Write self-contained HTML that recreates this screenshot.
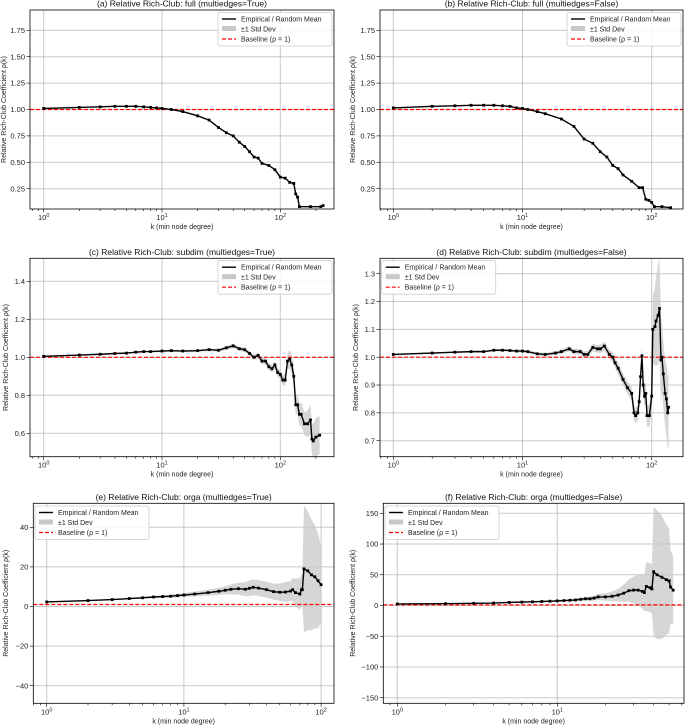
<!DOCTYPE html>
<html><head><meta charset="utf-8"><style>
html,body{margin:0;padding:0;background:#fff}
svg{display:block;font-family:"Liberation Sans","DejaVu Sans",sans-serif}
</style></head><body>
<svg id="fig" width="685" height="726" viewBox="0 0 685 726" xmlns="http://www.w3.org/2000/svg"></svg>
<script>
// ---- data ----
const kA=[1,2,3,4,5,6,7,8,9,10,12,15,20,25,30,35,40,45,50,55,60,65,70,80,90,100,110,120,130,135,140,145,180,220,230];
const vA=[1.01,1.02,1.025,1.03,1.03,1.03,1.025,1.02,1.015,1.01,1.0,0.98,0.94,0.9,0.83,0.78,0.75,0.69,0.65,0.6,0.55,0.54,0.49,0.47,0.43,0.36,0.35,0.31,0.30,0.2,0.17,0.08,0.08,0.08,0.09];
const sA=[0.005,0.005,0.005,0.005,0.005,0.005,0.005,0.005,0.005,0.005,0.005,0.005,0.005,0.005,0.005,0.005,0.005,0.005,0.005,0.005,0.005,0.005,0.005,0.005,0.005,0.005,0.005,0.005,0.005,0.005,0.005,0.005,0.005,0.005,0.005];
const kB=[1,2,3,4,5,6,7,8,9,10,11,13,15,20,25,30,35,40,45,50,55,60,70,80,85,90,95,100,105,120,140];
const vB=[1.015,1.03,1.035,1.04,1.04,1.04,1.035,1.03,1.015,1.01,1.0,0.98,0.96,0.91,0.84,0.72,0.68,0.6,0.55,0.47,0.44,0.38,0.32,0.26,0.26,0.15,0.14,0.12,0.08,0.08,0.07];
const sB=[0.005,0.005,0.005,0.005,0.005,0.005,0.005,0.005,0.005,0.005,0.005,0.005,0.005,0.005,0.005,0.005,0.005,0.005,0.005,0.005,0.005,0.005,0.005,0.005,0.005,0.005,0.005,0.005,0.005,0.005,0.005];
const kC=[1,2,3,4,5,6,7,8,10,12,15,20,25,30,35,40,45,50,55,60,65,70,75,80,85,90,95,100,105,110,115,120,125,130,135,140,145,150,160,170,180,185,190,200,215];
const vC=[1.005,1.012,1.016,1.02,1.022,1.027,1.03,1.03,1.033,1.035,1.033,1.035,1.04,1.037,1.05,1.06,1.045,1.04,1.02,1.0,1.01,0.98,0.98,0.95,0.94,0.96,0.92,0.91,0.88,0.88,0.98,0.99,0.96,0.90,0.75,0.75,0.70,0.70,0.65,0.65,0.67,0.57,0.56,0.58,0.59];
const sC=[0.003,0.003,0.003,0.003,0.003,0.004,0.004,0.004,0.005,0.005,0.005,0.006,0.007,0.008,0.01,0.012,0.012,0.012,0.013,0.014,0.015,0.016,0.017,0.018,0.02,0.02,0.022,0.024,0.026,0.03,0.04,0.05,0.05,0.05,0.05,0.05,0.06,0.06,0.06,0.07,0.08,0.08,0.09,0.1,0.1];
const kD=[1,2,3,4,5,6,7,8,9,10,11,13,15,18,20,23,25,28,30,32,35,38,40,43,47,50,52,55,60,65,70,73,75,78,80,82,84,86,88,90,92,96,100,102,106,108,112,115,118,120,123,127,130,133,135];
const vD=[1.01,1.015,1.018,1.02,1.02,1.025,1.025,1.024,1.022,1.022,1.02,1.012,1.01,1.015,1.02,1.03,1.02,1.02,1.01,1.01,1.035,1.03,1.03,1.04,1.01,1.0,0.98,0.96,0.92,0.89,0.87,0.8,0.79,0.8,0.84,0.93,1.005,0.9,0.86,0.87,0.79,0.79,0.86,1.1,1.11,1.13,1.15,1.175,0.99,1.0,0.94,0.87,0.85,0.80,0.82];
const sD=[0.003,0.003,0.003,0.003,0.004,0.004,0.004,0.004,0.005,0.005,0.005,0.006,0.006,0.007,0.008,0.009,0.01,0.01,0.011,0.012,0.013,0.014,0.015,0.016,0.017,0.018,0.018,0.02,0.02,0.022,0.025,0.025,0.027,0.028,0.03,0.03,0.035,0.035,0.035,0.04,0.04,0.04,0.05,0.12,0.14,0.16,0.18,0.18,0.16,0.12,0.12,0.12,0.13,0.13,0.14];
const kE=[1,2,3,4,5,6,7,8,9,10,12,15,18,20,22,25,28,30,32,35,40,45,50,55,60,62,65,70,72,73,75,80,85,90,95,100];
const vE=[2.3,3,3.5,4,4.4,4.8,5,5.2,5.5,5.8,6.3,7,7.7,8.2,8.7,9,8.7,9.2,9.7,9.3,8.5,7.5,7.2,7.3,7.8,8.5,7,6.3,8.5,8.5,19,18,16,15,13,11];
const sE=[0.1,0.2,0.3,0.4,0.5,0.6,0.7,0.8,0.9,1.0,1.2,1.5,1.8,2,2.5,3,3.5,4,4,4,4,4,4.5,5,5,6,7,8,8,8,32,30,28,26,24,19];
const kF=[1,2,3,4,5,6,7,8,9,10,11,12,13,14,15,16,17,18,20,22,24,26,28,30,32,34,35,36,38,39,40,42,45,48,50,51,53];
const vF=[2.5,3,3.5,4,5,5.5,6,6.5,7,7.5,8,8.5,9,10,11,11,12,14,14,15,17,20,24,25,25,23,21,31,29,27,55,50,46,42,40,30,25];
const sF=[0.2,0.3,0.4,0.5,0.6,0.7,0.8,1,1.2,1.4,1.6,1.8,2,2.5,3,3.5,4,5,6,8,10,14,18,22,25,28,30,40,40,40,105,105,100,90,85,60,55];

// ---- panels ----
const NS='http://www.w3.org/2000/svg';
const fig=document.getElementById('fig');
function el(tag,attrs,parent,txt){const e=document.createElementNS(NS,tag);for(const k in attrs)e.setAttribute(k,attrs[k]);if(txt!==undefined)e.textContent=txt;(parent||fig).appendChild(e);return e;}

function panel(cfg,ks,vs,ss){
  const g=el('g',{});
  
  
  const X=k=>cfg.x0+cfg.dec*Math.log10(k);
  const Y=v=>cfg.yA+(v-cfg.vA)*(cfg.yB-cfg.yA)/(cfg.vB-cfg.vA);
  const L=cfg.l,R=cfg.r,T=cfg.t,B=cfg.b;
  const cp=el('clipPath',{id:'cp'+cfg.id},g);
  el('rect',{x:L,y:T,width:R-L,height:B-T},cp);
  // grid
  [1,10,100].forEach(k=>{const x=X(k);if(x>L&&x<R){const gl=el('line',{x1:x,x2:x,y1:T,y2:B,stroke:'#b0b0b0','stroke-width':1,'stroke-opacity':0.7},g);}});
  cfg.yt.forEach(v=>{const y=Y(v);const gl=el('line',{x1:L,x2:R,y1:y,y2:y,stroke:'#b0b0b0','stroke-width':1,'stroke-opacity':0.7},g);});
  const clip=el('g',{'clip-path':'url(#cp'+cfg.id+')'},g);
  // band
  let pts=ks.map((k,i)=>X(k)+','+Y(vs[i]+ss[i]));
  for(let i=ks.length-1;i>=0;i--)pts.push(X(ks[i])+','+Y(vs[i]-ss[i]));
  const band=el('polygon',{points:pts.join(' '),fill:'#c8c8c8','fill-opacity':0.75},clip);
  
  
  // baseline
  const bl=el('line',{x1:L,x2:R,y1:Y(1),y2:Y(1),stroke:'#ff0000','stroke-width':1.2,'stroke-dasharray':'4,2'},clip);
  
  
  // line
  const ln=el('polyline',{points:ks.map((k,i)=>X(k)+','+Y(vs[i])).join(' '),fill:'none',stroke:'#000','stroke-width':1.4},clip);
  
  
  ks.forEach((k,i)=>{const m=el('rect',{x:X(k)-1.4,y:Y(vs[i])-1.4,width:2.8,height:2.8,fill:'#000'},clip);
    
    });
  // frame
  el('rect',{x:L,y:T,width:R-L,height:B-T,fill:'none',stroke:'#000','stroke-width':0.8},g);
  // x ticks
  const kmin=Math.pow(10,(L-cfg.x0)/cfg.dec),kmax=Math.pow(10,(R-cfg.x0)/cfg.dec);
  for(let e=-1;e<3;e++)for(let d=1;d<10;d++){const k=d*Math.pow(10,e);if(k<kmin||k>kmax)continue;const x=X(k);
    el('line',{x1:x,x2:x,y1:B,y2:B+(d==1?3.5:2),stroke:'#000','stroke-width':0.6},g);
    if(d==1){const t=el('text',{x:x,y:B+11,'font-size':7.5,'text-anchor':'middle',fill:'#222'},g,'10');
      
      el('tspan',{dy:-3,'font-size':5.5},t,String(e));}}
  // y ticks
  cfg.yt.forEach((v,i)=>{const y=Y(v);el('line',{x1:L-3.5,x2:L,y1:y,y2:y,stroke:'#000','stroke-width':0.6},g);
    const t=el('text',{x:L-5,y:y+2.6,'font-size':7.5,'text-anchor':'end',fill:'#222'},g,cfg.yl[i]);
    });
  const ti=el('text',{x:(L+R)/2,y:T-3.5,'font-size':8.5,'text-anchor':'middle',fill:'#111'},g,cfg.title);
  
  const xl=el('text',{x:(L+R)/2,y:B+20,'font-size':7,'text-anchor':'middle',fill:'#222'},g,'k (min node degree)');
  
  const yl=el('text',{x:0,y:0,'font-size':7,'text-anchor':'middle',fill:'#222',transform:'translate('+cfg.ylx+','+((T+B)/2)+') rotate(-90)'},g,'Relative Rich-Club Coefficient ρ(k)');
  
  // legend
  const lg=el('g',{transform:'translate('+cfg.lgx+','+cfg.lgy+')'},g);
  
  
  el('rect',{x:0,y:0,width:114,height:33.5,rx:2,fill:'#fff','fill-opacity':0.85,stroke:'#ccc','stroke-width':0.8},lg);
  el('line',{x1:4,x2:18,y1:6.5,y2:6.5,stroke:'#000','stroke-width':1.4},lg);
  el('rect',{x:4,y:13.5,width:14,height:5,fill:'#c8c8c8'},lg);
  el('line',{x1:4,x2:18,y1:26.5,y2:26.5,stroke:'#ff0000','stroke-width':1.2,'stroke-dasharray':'4,2'},lg);
  ['Empirical / Random Mean','±1 Std Dev','Baseline (ρ = 1)'].forEach((s,i)=>{
    const t=el('text',{x:23,y:9+i*10,'font-size':7,fill:'#222'},lg,s);
    });
}
const yA=[0.25,0.5,0.75,1.0,1.25,1.5,1.75];
const yAl=['0.25','0.50','0.75','1.00','1.25','1.50','1.75'];
panel({id:'a',l:30,r:334,t:10,b:209,x0:43.7,dec:118.3,yA:30.3,vA:1.75,yB:188.7,vB:0.25,yt:yA,yl:yAl,title:'(a) Relative Rich-Club: full (multiedges=True)',ylx:6,lgx:218,lgy:12.5},kA,vA,sA);
panel({id:'b',l:380,r:683,t:10,b:209,x0:393.3,dec:129.2,yA:30.3,vA:1.75,yB:188.7,vB:0.25,yt:yA,yl:yAl,title:'(b) Relative Rich-Club: full (multiedges=False)',ylx:355,lgx:567,lgy:12.5},kB,vB,sB);
panel({id:'c',l:30,r:334,t:258.3,b:456.7,x0:43.7,dec:118.3,yA:281.3,vA:1.4,yB:433.3,vB:0.6,yt:[0.6,0.8,1.0,1.2,1.4],yl:['0.6','0.8','1.0','1.2','1.4'],title:'(c) Relative Rich-Club: subdim (multiedges=True)',ylx:8,lgx:218,lgy:260.7},kC,vC,sC);
panel({id:'d',l:380,r:683,t:258.3,b:456.7,x0:393.3,dec:129.2,yA:273.7,vA:1.3,yB:440.7,vB:0.7,yt:[0.7,0.8,0.9,1.0,1.1,1.2,1.3],yl:['0.7','0.8','0.9','1.0','1.1','1.2','1.3'],title:'(d) Relative Rich-Club: subdim (multiedges=False)',ylx:358,lgx:381.7,lgy:260.7},kD,vD,sD);
panel({id:'e',l:33.3,r:334,t:503.3,b:703.3,x0:46.7,dec:137.2,yA:527.3,vA:40,yB:685.7,vB:-40,yt:[-40,-20,0,20,40],yl:['−40','−20','0','20','40'],title:'(e) Relative Rich-Club: orga (multiedges=True)',ylx:8,lgx:35,lgy:506},kE,vE,sE);
panel({id:'f',l:383.3,r:684,t:503.3,b:703.3,x0:397.3,dec:160,yA:513.3,vA:150,yB:697.7,vB:-150,yt:[-150,-100,-50,0,50,100,150],yl:['−150','−100','−50','0','50','100','150'],title:'(f) Relative Rich-Club: orga (multiedges=False)',ylx:355,lgx:385,lgy:506},kF,vF,sF);
</script>
</body></html>
